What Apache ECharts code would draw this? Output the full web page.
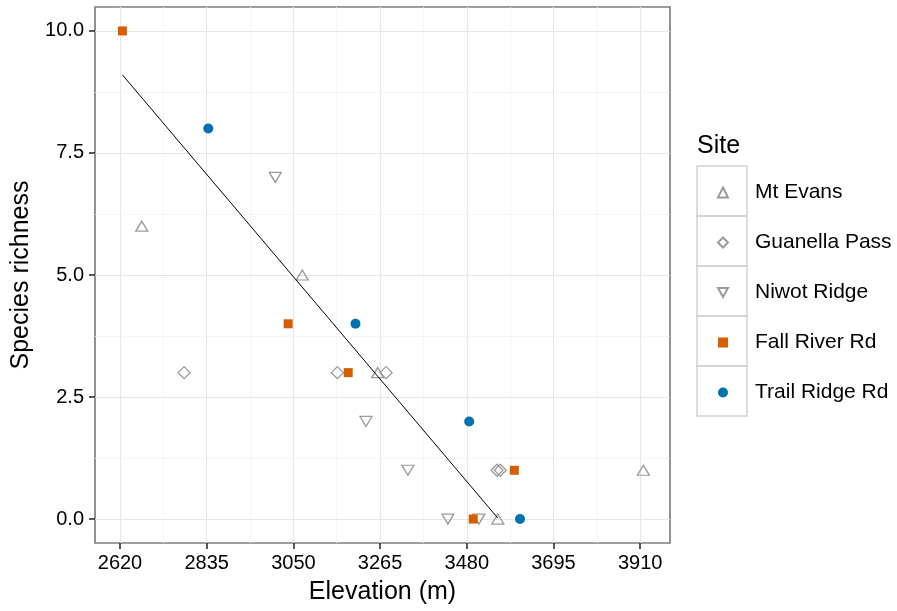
<!DOCTYPE html>
<html>
<head>
<meta charset="utf-8">
<script src="https://cdn.jsdelivr.net/npm/echarts@6/dist/echarts.min.js"></script>
<style>
  html, body { margin: 0; padding: 0; background: #fff; }
  #chart { width: 897px; height: 611px; }
</style>
</head>
<body>
<div id="chart"></div>
<script>
  // sites, in legend order
  const siteNames = ['Mt Evans', 'Guanella Pass', 'Niwot Ridge', 'Fall River Rd', 'Trail Ridge Rd'];

  // elevation (m) / species richness per site
  const mtEvansElev = [2674, 3072, 3259, 3557, 3918];
  const mtEvansRich = [6, 5, 3, 0, 1];
  const guanellaElev = [2779, 3159, 3280, 3555, 3563];
  const guanellaRich = [3, 3, 3, 1, 1];
  const niwotElev = [3005, 3230, 3334, 3433, 3510];
  const niwotRich = [7, 2, 1, 0, 0];
  const fallRiverElev = [2626, 3037, 3186, 3598, 3496];
  const fallRiverRich = [10, 4, 3, 1, 0];
  const trailRidgeElev = [2839, 3204, 3486, 3612];
  const trailRidgeRich = [8, 4, 2, 0];

  // fitted line end points
  const fitElev = [2626, 3557];
  const fitRich = [9.1, 0.02];

  // ticks and grid lines
  const xTicks = [2620, 2835, 3050, 3265, 3480, 3695, 3910];
  const xMinor = [2727.5, 2942.5, 3157.5, 3372.5, 3587.5, 3802.5];
  const yTicks = [0, 2.5, 5, 7.5, 10];
  const yMinor = [1.25, 3.75, 6.25, 8.75];

  const pairs = (xs, ys) => xs.map((x, i) => [x, ys[i]]);
  const font = "'Liberation Sans', Arial, Helvetica, sans-serif";

  const hollow = {color: 'rgba(0,0,0,0)', borderColor: '#9a9a9a', borderWidth: 1.3, opacity: 1};

  const myChart = echarts.init(document.getElementById('chart'));

  // grid lines drawn as mark lines so they sit on the custom ticks
  const major = {color: '#e6e6e6', width: 1.2, type: 'solid'};
  const minor = {color: '#f3f3f3', width: 0.8, type: 'solid'};
  const gridLines = []
    .concat(xTicks.map(v => ({xAxis: v, lineStyle: major})))
    .concat(xMinor.map(v => ({xAxis: v, lineStyle: minor})))
    .concat(yTicks.map(v => ({yAxis: v, lineStyle: major})))
    .concat(yMinor.map(v => ({yAxis: v, lineStyle: minor})));

  // legend entries; the down triangle gets its own icon
  const legendItems = siteNames.map(n => n === 'Niwot Ridge'
    ? {name: n, icon: 'path://M0,0L10,0L5,9Z'}
    : {name: n});

  myChart.setOption({
    animation: false,
    textStyle: {fontFamily: font},
    grid: {
      left: 95, right: 227, top: 7, bottom: 68,
      show: true,
      backgroundColor: '#fff',
      borderColor: '#7f7f7f',
      borderWidth: 1.7
    },
    xAxis: {
      type: 'value',
      min: 2558, max: 3984,
      name: 'Elevation (m)',
      nameLocation: 'middle',
      nameGap: 37,
      nameTextStyle: {fontSize: 25, color: '#000', fontFamily: font},
      axisLine: {show: false, onZero: false},
      splitLine: {show: false},
      axisTick: {show: true, customValues: xTicks, length: 6, lineStyle: {color: '#222', width: 1.5}},
      axisLabel: {customValues: xTicks, color: '#000', fontSize: 20, margin: 10, fontFamily: font, formatter: v => String(v)}
    },
    yAxis: {
      type: 'value',
      min: -0.49, max: 10.49,
      name: 'Species richness',
      nameLocation: 'middle',
      nameGap: 61,
      nameTextStyle: {fontSize: 25, color: '#000', fontFamily: font},
      axisLine: {show: false, onZero: false},
      splitLine: {show: false},
      axisTick: {show: true, customValues: yTicks, length: 6, lineStyle: {color: '#222', width: 1.5}},
      axisLabel: {
        customValues: yTicks, color: '#000', fontSize: 20, margin: 11, fontFamily: font,
        formatter: v => v.toFixed(1)
      }
    },
    legend: {
      data: legendItems,
      orient: 'vertical',
      left: 717, top: 182,
      padding: 0,
      itemWidth: 10, itemHeight: 10,
      itemGap: 29,
      selectedMode: false,
      textStyle: {fontSize: 21, color: '#000', lineHeight: 20, padding: [0, 0, 0, 22], fontFamily: font}
    },
    graphic: [
      {type: 'text', x: 697, y: 146, style: {text: 'Site', font: '25px ' + font, fill: '#000', verticalAlign: 'middle'}}
    ].concat(siteNames.map((n, i) => ({
      type: 'rect', shape: {x: 697, y: 166 + 50 * i, width: 50, height: 50},
      style: {fill: 'none', stroke: '#d2d2d2', lineWidth: 1.5}
    }))),
    series: [
      {
        name: 'grid',
        type: 'scatter',
        data: [],
        z: 1,
        markLine: {silent: true, z: 1, symbol: ['none', 'none'], label: {show: false}, data: gridLines, animation: false}
      },
      {name: 'Mt Evans', type: 'scatter', symbol: 'triangle', symbolSize: [12, 10], itemStyle: hollow, data: pairs(mtEvansElev, mtEvansRich), z: 3},
      {name: 'Guanella Pass', type: 'scatter', symbol: 'diamond', symbolSize: 12, itemStyle: hollow, data: pairs(guanellaElev, guanellaRich), z: 3},
      {name: 'Niwot Ridge', type: 'scatter', symbol: 'triangle', symbolRotate: 180, symbolSize: [12, 10], itemStyle: hollow, data: pairs(niwotElev, niwotRich), z: 3},
      {name: 'Fall River Rd', type: 'scatter', symbol: 'rect', symbolSize: 9, itemStyle: {color: '#D55E00', opacity: 1}, data: pairs(fallRiverElev, fallRiverRich), z: 3},
      {name: 'Trail Ridge Rd', type: 'scatter', symbol: 'circle', symbolSize: 10, itemStyle: {color: '#0072B2', opacity: 1}, data: pairs(trailRidgeElev, trailRidgeRich), z: 3},
      {
        name: 'fit', type: 'line', data: pairs(fitElev, fitRich),
        showSymbol: false, symbol: 'none', silent: true,
        lineStyle: {color: '#000', width: 1}, z: 4
      }
    ]
  });
</script>
</body>
</html>
